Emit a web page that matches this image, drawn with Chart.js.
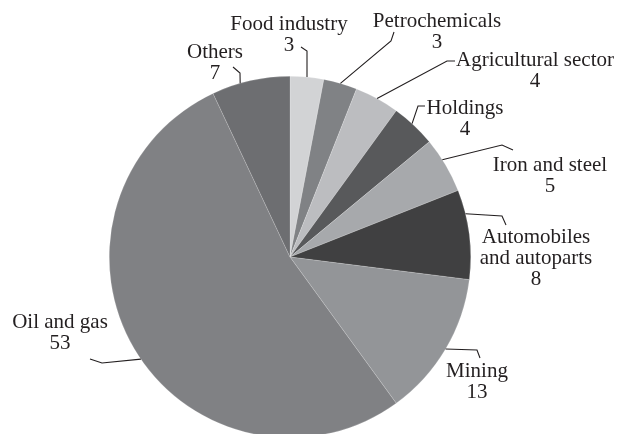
<!DOCTYPE html>
<html>
<head>
<meta charset="utf-8">
<script src="https://cdn.jsdelivr.net/npm/chart.js@4/dist/chart.umd.min.js"></script>
<style>
  html, body { margin: 0; padding: 0; background: #fff; overflow: hidden; }
  #wrap { width: 617px; height: 434px; overflow: hidden; }
</style>
</head>
<body>
<div id="wrap"><canvas id="pie" width="617" height="440"></canvas></div>
<script>
// shares of investment by sector (%), clockwise from 12 o'clock
const categories = ['Food industry', 'Petrochemicals', 'Agricultural sector', 'Holdings',
  'Iron and steel', 'Automobiles and autoparts', 'Mining', 'Oil and gas', 'Others'];
const shares = [3, 3, 4, 4, 5, 8, 13, 53, 7];
const sliceColors = ['#d2d3d5', '#808285', '#bcbdc0', '#58595b', '#a7a9ac',
  '#404041', '#939598', '#808184', '#6d6e71'];

// label placement: text centre x, first baseline y, leader bend points, where on the arc the leader ends
const labelLayout = [
  { x: 289, y: 30, lead: [[301, 47], [307, 51]], t: 0.5 },
  { x: 437, y: 27, lead: [[394, 32], [391, 41]], t: 0.5 },
  { x: 535, y: 66, lead: [[455, 61], [447, 61]], t: 0.5 },
  { x: 465, y: 114, lead: [[425, 106], [418, 106]], t: 0.45 },
  { x: 550, y: 171, lead: [[513, 150], [502, 145]], t: 0.39 },
  { x: 536, y: 243, lead: [[506, 225], [502, 216]], t: 0.27, breakAt: 1 },
  { x: 477, y: 377, lead: [[480, 358], [477, 350]], t: 0.5 },
  { x: 60, y: 328, lead: [[90, 359], [102, 363]], t: 0.48 },
  { x: 215, y: 58, lead: [[233, 67], [240, 73]], t: 0.365 }
];

const lineGap = 21;
const ink = '#231f20';

const pieLabels = {
  id: 'pieLabels',
  afterDraw(chart) {
    const ctx = chart.ctx;
    const arcs = chart.getDatasetMeta(0).data;
    ctx.save();
    ctx.font = '21px "Liberation Serif", "Times New Roman", serif';
    ctx.fillStyle = ink;
    ctx.strokeStyle = ink;
    ctx.lineWidth = 1.1;
    ctx.textAlign = 'center';
    ctx.textBaseline = 'alphabetic';
    arcs.forEach((arc, i) => {
      const L = labelLayout[i];
      const p = arc.getProps(['x', 'y', 'startAngle', 'endAngle', 'outerRadius'], true);
      const a = p.startAngle + (p.endAngle - p.startAngle) * L.t;
      const ex = p.x + Math.cos(a) * p.outerRadius;
      const ey = p.y + Math.sin(a) * p.outerRadius;
      ctx.beginPath();
      ctx.moveTo(L.lead[0][0], L.lead[0][1]);
      ctx.lineTo(L.lead[1][0], L.lead[1][1]);
      ctx.lineTo(ex, ey);
      ctx.stroke();

      let rows = [categories[i]];
      if (L.breakAt) {
        const words = categories[i].split(' ');
        rows = [words.slice(0, L.breakAt).join(' '), words.slice(L.breakAt).join(' ')];
      }
      rows.push(String(shares[i]));
      rows.forEach((r, k) => ctx.fillText(r, L.x, L.y + k * lineGap));
    });
    ctx.restore();
  }
};

new Chart(document.getElementById('pie'), {
  type: 'pie',
  data: {
    labels: categories,
    datasets: [{
      data: shares,
      backgroundColor: sliceColors,
      borderColor: 'rgba(255,255,255,0.35)',
      borderWidth: 0.5,
      hoverOffset: 0,
      offset: 0
    }]
  },
  options: {
    responsive: false,
    animation: false,
    events: [],
    layout: { padding: { top: 76, bottom: 2, left: 109, right: 146 } },
    plugins: {
      legend: { display: false },
      tooltip: { enabled: false }
    }
  },
  plugins: [pieLabels]
});
</script>
</body>
</html>
